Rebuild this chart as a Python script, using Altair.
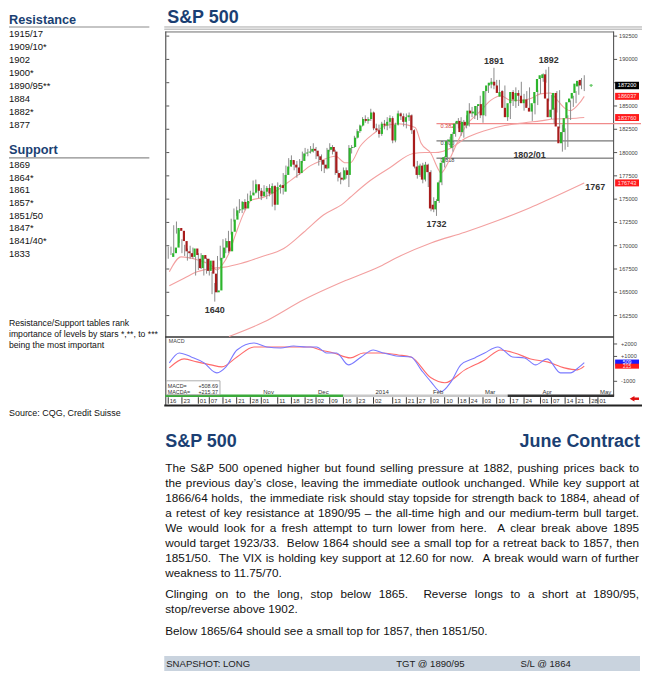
import altair as alt
import pandas as pd

# ------------------------------------------------------------------ data
holidays = ["2013-11-28", "2013-12-25", "2014-01-01", "2014-01-20",
            "2014-02-17", "2014-04-18"]

candle_open = [1688, 1692, 1698, 1719, 1716, 1705, 1694, 1692, 1688, 1697,
               1686, 1676, 1690, 1686, 1673, 1684, 1670, 1650, 1652, 1687,
               1698, 1705, 1694, 1715, 1728, 1738, 1739, 1747, 1740, 1748,
               1754, 1757, 1766, 1759, 1753, 1758, 1762, 1756, 1764, 1744,
               1763, 1765, 1758, 1776, 1785, 1792, 1787, 1784, 1778, 1791,
               1799, 1800, 1801, 1804, 1802, 1796, 1792, 1787, 1783, 1803,
               1806, 1801, 1778, 1773, 1771, 1781, 1776, 1805, 1806, 1816,
               1823, 1829, 1836, 1834, 1836, 1843, 1826, 1824, 1820, 1831,
               1829, 1833, 1837, 1813, 1830, 1842, 1839, 1833, 1838, 1840,
               1824, 1785, 1776, 1786, 1771, 1787, 1779, 1744, 1739, 1748,
               1768, 1789, 1795, 1812, 1805, 1820, 1831, 1834, 1822, 1833,
               1829, 1845, 1842, 1840, 1850, 1852, 1840, 1866, 1872, 1873,
               1876, 1872, 1860, 1866, 1848, 1838, 1853, 1865, 1855, 1864,
               1861, 1853, 1857, 1848, 1844, 1853, 1865, 1879, 1880, 1884,
               1858, 1838, 1846, 1864, 1828, 1810, 1822, 1837, 1854, 1858,
               1864, 1871, 1878]
candle_high = [1699, 1699, 1722, 1726, 1717, 1707, 1701, 1697, 1700, 1698,
               1688, 1692, 1692, 1689, 1687, 1686, 1672, 1660, 1689, 1700,
               1707, 1708, 1716, 1729, 1740, 1742, 1750, 1748, 1750, 1756,
               1759, 1770, 1771, 1763, 1762, 1765, 1764, 1766, 1767, 1765,
               1768, 1766, 1778, 1786, 1794, 1797, 1791, 1791, 1793, 1801,
               1805, 1804, 1807, 1810, 1806, 1798, 1798, 1792, 1805, 1810,
               1808, 1803, 1781, 1779, 1784, 1784, 1808, 1808, 1818, 1825,
               1830, 1838, 1840, 1838, 1847, 1844, 1831, 1830, 1833, 1835,
               1838, 1840, 1839, 1832, 1845, 1843, 1842, 1842, 1843, 1841,
               1825, 1791, 1788, 1789, 1790, 1788, 1781, 1752, 1750, 1770,
               1791, 1796, 1814, 1817, 1822, 1833, 1837, 1838, 1835, 1840,
               1853, 1849, 1850, 1851, 1861, 1853, 1868, 1874, 1880, 1891,
               1878, 1878, 1867, 1872, 1850, 1855, 1867, 1870, 1867, 1876,
               1863, 1866, 1870, 1851, 1860, 1867, 1880, 1885, 1889, 1892,
               1862, 1848, 1866, 1867, 1830, 1826, 1840, 1856, 1861, 1866,
               1876, 1880, 1883]
candle_low = [1686, 1690, 1692, 1713, 1703, 1692, 1689, 1684, 1686, 1686,
              1668, 1674, 1675, 1668, 1670, 1668, 1648, 1640, 1650, 1684,
              1686, 1692, 1692, 1712, 1726, 1732, 1735, 1735, 1738, 1745,
              1750, 1755, 1756, 1751, 1749, 1755, 1750, 1753, 1742, 1738,
              1760, 1756, 1755, 1773, 1783, 1785, 1781, 1773, 1776, 1789,
              1796, 1796, 1799, 1800, 1793, 1786, 1780, 1778, 1782, 1801,
              1798, 1776, 1769, 1766, 1770, 1772, 1763, 1799, 1805, 1815,
              1821, 1828, 1832, 1831, 1834, 1824, 1822, 1816, 1818, 1825,
              1824, 1826, 1810, 1811, 1829, 1835, 1828, 1826, 1834, 1820,
              1783, 1772, 1774, 1767, 1769, 1763, 1737, 1736, 1732, 1746,
              1765, 1784, 1792, 1806, 1801, 1817, 1826, 1818, 1816, 1826,
              1828, 1838, 1836, 1835, 1837, 1832, 1839, 1864, 1869, 1868,
              1866, 1862, 1853, 1845, 1834, 1836, 1850, 1848, 1850, 1858,
              1845, 1850, 1846, 1834, 1841, 1851, 1863, 1876, 1875, 1855,
              1836, 1831, 1843, 1826, 1801, 1803, 1806, 1835, 1849, 1853,
              1862, 1868, 1866]
candle_close = [1692, 1698, 1719, 1716, 1705, 1694, 1692, 1688, 1697, 1690,
                1676, 1690, 1686, 1673, 1684, 1670, 1650, 1652, 1687, 1698,
                1705, 1694, 1715, 1728, 1738, 1739, 1747, 1740, 1748, 1754,
                1757, 1766, 1759, 1753, 1758, 1762, 1756, 1764, 1744, 1763,
                1765, 1762, 1776, 1785, 1792, 1787, 1784, 1778, 1791, 1799,
                1800, 1801, 1804, 1802, 1796, 1792, 1787, 1783, 1803, 1806,
                1801, 1778, 1773, 1771, 1781, 1776, 1805, 1806, 1816, 1823,
                1829, 1836, 1834, 1836, 1843, 1826, 1824, 1820, 1831, 1829,
                1833, 1837, 1813, 1830, 1842, 1839, 1833, 1838, 1840, 1824,
                1785, 1776, 1786, 1771, 1787, 1779, 1740, 1739, 1748, 1768,
                1789, 1795, 1812, 1814, 1820, 1831, 1834, 1822, 1833, 1829,
                1845, 1842, 1844, 1850, 1852, 1840, 1866, 1872, 1875, 1876,
                1872, 1864, 1865, 1848, 1838, 1853, 1865, 1857, 1864, 1861,
                1853, 1857, 1848, 1844, 1853, 1865, 1879, 1883, 1884, 1858,
                1838, 1846, 1864, 1828, 1810, 1822, 1837, 1854, 1858, 1864,
                1874, 1877, 1872]

# moving averages, sampled along the trading-day axis
fast_ma_day = [0.4, 4.7, 10.5, 15.6, 17.8, 19.6, 22.2, 24.7, 27.6, 30.5,
               34.9, 39.6, 43.3, 48.4, 52, 55.6, 61.1, 64.7, 66.5, 70.2,
               74.9, 79.6, 84, 90.2, 92.4, 96, 98.5, 99.6, 102.2, 104.7,
               108.4, 114.2, 117.8, 121.5, 125.1, 128.7, 132.4, 136, 139.6, 142.2,
               144.7, 146.9, 150.2, 152]
fast_ma_val = [1672, 1688, 1685, 1679, 1674, 1679, 1692, 1713, 1735, 1749,
               1752, 1759, 1767, 1778, 1786, 1791, 1796, 1789, 1789, 1807,
               1820, 1829, 1831, 1827, 1810, 1799, 1783, 1778, 1789, 1805,
               1827, 1845, 1856, 1861, 1856, 1856, 1858, 1863, 1864, 1856,
               1848, 1845, 1853, 1860.37]
slow_ma_day = [0.4, 5.8, 10.5, 16.7, 20.4, 26.5, 33.8, 42.2, 49.5, 56.7,
               64, 66.5, 73.8, 81.1, 89.5, 93.8, 97.5, 103.3, 108.4, 115.6,
               122.9, 130.2, 136, 141.1, 146.9, 152]
slow_ma_val = [1657, 1665, 1672, 1676, 1677, 1681, 1688, 1697, 1714.5, 1733,
               1745.5, 1752, 1770, 1784, 1799, 1800, 1800, 1805, 1815, 1823.5,
               1829, 1832, 1834, 1836, 1836.5, 1837.6]
long_ma_day = [22.2, 34.9, 49.5, 65.1, 77.5, 84, 96, 108.4, 120.4, 132.4, 138.5, 152]
long_ma_val = [1602.5, 1618, 1642, 1663, 1678, 1688, 1703, 1714.5, 1727, 1741, 1749, 1767.43]

macd_day = [0.4, 4, 8.4, 13.1, 16.7, 17.8, 21.1, 25.1, 31.3, 36,
            41.1, 45.8, 50.5, 54.2, 57.8, 61.5, 65.8, 70.5, 74.9, 78.5,
            83.3, 88.7, 92.4, 96, 99.6, 103.3, 106.9, 112, 115.6, 120.4,
            125.8, 130.2, 134.2, 138.5, 143.3, 146.9, 150.2, 152]
macd_val = [480, 1280, 960, 480, -240, -320, 160, 1520, 2080, 1760,
            1680, 1840, 1760, 1760, 1280, 1280, 320, 960, 1520, 1280,
            1040, 960, -80, -1040, -1840, -1040, 320, 880, 1280, 1760,
            960, 880, 320, 800, -320, -320, 160, 508.69]
signal_day = [0.4, 5.8, 10.5, 15.6, 19.6, 25.1, 31.3, 37.5, 44.7, 52,
              55.6, 60.4, 66.5, 71.3, 77.5, 84, 88.7, 96, 101.1, 108.4,
              115.6, 121.5, 126.5, 132.4, 138.5, 144.7, 149.5, 152]
signal_val = [80, 800, 560, 320, 160, 960, 1760, 1760, 1760, 1760,
              1520, 1280, 880, 1280, 1280, 1120, 960, -720, -1120, -80,
              720, 1520, 1280, 800, 560, 80, -80, 215.37]

fib_ratio = ["0.382", "0.500", "0.618"]
fib_level = [1831, 1812.5, 1794]
fib_start = "2014-02-05"

peak_text = ["1891", "1892"]
peak_date = ["2014-03-07", "2014-04-04"]
peak_value = [1891, 1892]
trough_text = ["1732", "1640"]
trough_date = ["2014-02-05", "2013-10-09"]
trough_value = [1732, 1640]
level_text = ["1802/01", "1767"]
level_date = ["2014-03-26", "2014-04-30"]
level_value = [1802, 1767]

price_ticks = [1925, 1900, 1875, 1850, 1825, 1800, 1775, 1750, 1725, 1700, 1675, 1650, 1625]
# the 187500 label is hidden behind the last-price box in the reference
label_ticks = [1925, 1900, 1850, 1825, 1800, 1775, 1750, 1725, 1700, 1675, 1650, 1625]
label_texts = ["192500", "190000", "185000", "182500", "180000", "177500",
               "175000", "172500", "170000", "167500", "165000", "162500"]
last_price = [1872.00]
last_price_label = ["187200"]
ma_levels = [1860.37, 1837.60, 1767.43]
ma_level_labels = ["186037", "183760", "176743"]

macd_ticks = [2000, 1000, -1000]
macd_tick_labels = ["+2000", "+1000", "-1000"]

date_ticks = ["2013-09-16", "2013-09-23", "2013-10-01", "2013-10-07", "2013-10-14", "2013-10-21",
              "2013-10-28", "2013-11-01", "2013-11-11", "2013-11-18", "2013-11-25", "2013-12-02",
              "2013-12-09", "2013-12-16", "2013-12-23", "2014-01-02", "2014-01-13", "2014-01-21",
              "2014-01-27", "2014-02-03", "2014-02-10", "2014-02-18", "2014-02-24", "2014-03-03",
              "2014-03-10", "2014-03-17", "2014-03-24", "2014-04-01", "2014-04-07", "2014-04-14",
              "2014-04-21", "2014-04-28", "2014-05-01"]
month_dates = ["2013-11-01", "2013-12-02", "2014-01-02", "2014-02-03", "2014-03-03", "2014-04-01", "2014-05-01"]
month_labels = ["Nov", "Dec", "2014", "Feb", "Mar", "Apr", "May"]

resistance_levels = ["1915/17", "1909/10*", "1902", "1900*", "1890/95**", "1884", "1882*", "1877"]
support_levels = ["1869", "1864*", "1861", "1857*", "1851/50", "1847*", "1841/40*", "1833"]

paragraph1 = [
    "The S&P 500 opened higher but found selling pressure at 1882, pushing prices back to",
    "the previous day\u2019s close, leaving the immediate outlook unchanged. While key support at",
    "1866/64 holds,  the immediate risk should stay topside for strength back to 1884, ahead of",
    "a retest of key resistance at 1890/95 \u2013 the all-time high and our medium-term bull target.",
    "We would look for a fresh attempt to turn lower from here.  A clear break above 1895",
    "would target 1923/33.  Below 1864 should see a small top for a retreat back to 1857, then",
    "1851/50.  The VIX is holding key support at 12.60 for now.  A break would warn of further",
    "weakness to 11.75/70.",
]
paragraph2 = [
    "Clinging on to the long, stop below 1865.  Reverse longs to a short at 1890/95,",
    "stop/reverse above 1902.",
]
paragraph3 = ["Below 1865/64 should see a small top for 1857, then 1851/50."]

# ------------------------------------------------------------------ helpers
SANS = "Liberation Sans, Arial, Helvetica, sans-serif"
NARROW = "Liberation Sans Narrow, Arial Narrow, Liberation Sans, Arial, sans-serif"
BLUE = "#1B3F73"
GREEN = "#2DB52D"
RED = "#A81C1C"
PINK = "#F3A0A0"

calendar = [d.strftime("%Y-%m-%d") for d in pd.bdate_range("2013-09-16", "2014-05-02")
            if d.strftime("%Y-%m-%d") not in holidays]
day_of = {d: i for i, d in enumerate(calendar)}

XS = alt.Scale(domain=[0, 160], range=[161, 601], nice=False, zero=False)
PS = alt.Scale(domain=[1602, 1930], range=[329, 22], nice=False, zero=False)
MS = alt.Scale(domain=[-1920, 2560], range=[385, 329], nice=False, zero=False)


def DX(f="day"):
    return alt.X(f"{f}:Q", scale=XS, axis=None)


def PY(f):
    return alt.Y(f"{f}:Q", scale=PS, axis=None)


def MY(f):
    return alt.Y(f"{f}:Q", scale=MS, axis=None)


def sc(v):
    return v - 8  # screen pixel -> chart pixel


def texts(rows, size, color="#111111", weight="normal", align="left", font=SANS,
          baseline="alphabetic"):
    df = pd.DataFrame({"px": [sc(r[0]) for r in rows], "py": [sc(r[1]) for r in rows],
                       "t": [r[2] for r in rows]})
    return alt.Chart(df).mark_text(align=align, baseline=baseline, font=font, fontSize=size,
                                   fontWeight=weight, color=color).encode(
        x=alt.X("px:Q", scale=None), y=alt.Y("py:Q", scale=None), text="t:N")


def segs(rows, color, width):
    df = pd.DataFrame({"x1": [sc(r[0]) for r in rows], "y1": [sc(r[1]) for r in rows],
                       "x2": [sc(r[2]) for r in rows], "y2": [sc(r[3]) for r in rows]})
    return alt.Chart(df).mark_rule(color=color, strokeWidth=width, strokeCap="butt").encode(
        x=alt.X("x1:Q", scale=None), y=alt.Y("y1:Q", scale=None), x2="x2:Q", y2="y2:Q")


def rects(rows, fill, stroke="#000000", width=0):
    df = pd.DataFrame({"x1": [sc(r[0]) for r in rows], "y1": [sc(r[1]) for r in rows],
                       "x2": [sc(r[2]) for r in rows], "y2": [sc(r[3]) for r in rows]})
    return alt.Chart(df).mark_rect(fill=fill, stroke=stroke, strokeWidth=width).encode(
        x=alt.X("x1:Q", scale=None), y=alt.Y("y1:Q", scale=None), x2="x2:Q", y2="y2:Q")


ARIAL = {' ': 278, '&': 667, '\u2019': 222, '\u2013': 556, ',': 278, '.': 278, '/': 278,
         '-': 333, ':': 278, '*': 389, '+': 584, '@': 1015,
         'A': 667, 'B': 667, 'C': 722, 'D': 722, 'E': 667, 'F': 611, 'G': 778, 'H': 722,
         'I': 278, 'J': 500, 'K': 667, 'L': 556, 'M': 833, 'N': 722, 'O': 778, 'P': 667,
         'Q': 778, 'R': 722, 'S': 667, 'T': 611, 'U': 722, 'V': 667, 'W': 944, 'X': 667,
         'Y': 667, 'Z': 611, 'a': 556, 'b': 556, 'c': 500, 'd': 556, 'e': 556, 'f': 278,
         'g': 556, 'h': 556, 'i': 222, 'j': 222, 'k': 500, 'l': 222, 'm': 833, 'n': 556,
         'o': 556, 'p': 556, 'q': 556, 'r': 333, 's': 500, 't': 278, 'u': 556, 'v': 500,
         'w': 722, 'x': 500, 'y': 500, 'z': 500}


def tw(s, size):
    return sum(ARIAL.get(ch, 556) for ch in s) * size / 1000.0


def justify(lines, x0, x1, y0, step, size):
    rows = []
    for k, line in enumerate(lines):
        y = y0 + k * step
        words = line.split(" ")
        if k == len(lines) - 1 or len(words) < 2:
            rows.append((x0, y, line))
            continue
        total = sum(tw(w, size) for w in words)
        gap = (x1 - x0 - total) / (len(words) - 1)
        x = x0
        for w in words:
            if w:
                rows.append((x, y, w))
            x += tw(w, size) + gap
    return rows


layers = []
LX = 9  # left column text start (screen px)

# ------------------------------------------------------------------ left column
layers.append(texts([(LX, 22.5, "Resistance"), (LX, 153, "Support")], 12.8, BLUE, "bold"))
layers.append(segs([(LX, 25.5, 150, 25.5), (LX, 157, 150, 157)], "#8C8C8C", 1.2))
layers.append(texts([(LX, 35.2 + k * 13.1, s) for k, s in enumerate(resistance_levels)], 9.5,
                    font=NARROW))
layers.append(texts([(LX, 167.2 + k * 12.75, s) for k, s in enumerate(support_levels)], 9.5,
                    font=NARROW))
layers.append(texts([(LX, 326, "Resistance/Support tables rank"),
                     (LX, 337.2, "importance of levels by stars *,**, to ***"),
                     (LX, 348.4, "being the most important")], 8.7, font=NARROW))
layers.append(texts([(LX, 416.5, "Source: CQG, Credit Suisse")], 9, font=NARROW))

# ------------------------------------------------------------------ chart frame
layers.append(texts([(168, 21.5, "S&P 500")], 18, BLUE, "bold"))
layers.append(segs([(165, 25.5, 645, 25.5)], "#A6A6A6", 1))
layers.append(segs([(165, 27.8, 645, 27.8)], "#C4C4C4", 1.4))
layers.append(segs([(166, 30.5, 616.5, 30.5)], "#6E6E6E", 1))
layers.append(segs([(166.5, 30, 166.5, 406)], "#555555", 1.2))
layers.append(segs([(616.5, 30, 616.5, 396)], "#444444", 1))
layers.append(segs([(166, 337, 616.5, 337)], "#333333", 1.5))
layers.append(segs([(166, 396, 345, 396)], "#3BAA3B", 2.5))
layers.append(segs([(345, 396, 510, 396)], "#C8C8C8", 2.5))
layers.append(segs([(510, 396, 617, 396)], "#333333", 2.5))
layers.append(segs([(165, 405.8, 645, 405.8)], "#222222", 2))

# ------------------------------------------------------------------ price panel
n = len(candle_open)
candles = pd.DataFrame({"day": list(range(n)), "date": calendar[:n], "o": candle_open,
                        "h": candle_high, "l": candle_low, "c": candle_close})

ptick = pd.DataFrame({"v": price_ticks})
plab = pd.DataFrame({"v": label_ticks, "t": label_texts})
layers.append(alt.Chart(ptick).mark_rule(color="#555555").encode(
    x=alt.value(sc(616.5)), x2=alt.value(sc(620)), y=PY("v")))
layers.append(alt.Chart(ptick).mark_rule(color="#555555").encode(
    x=alt.value(sc(167)), x2=alt.value(sc(170)), y=PY("v")))
layers.append(alt.Chart(plab).mark_text(align="left", baseline="middle", font=SANS,
                                        fontSize=5.6, color="#444444").encode(
    x=alt.value(sc(622)), y=PY("v"), text="t:N"))

fib = pd.DataFrame({"day": [day_of[fib_start]] * 3, "v": fib_level, "t": fib_ratio})
layers.append(alt.Chart(fib.iloc[:1]).mark_rule(color="#F08A8A", strokeWidth=1.2).encode(
    x=DX(), x2=alt.value(sc(644)), y=PY("v")))
layers.append(alt.Chart(fib.iloc[1:]).mark_rule(color="#555555", strokeWidth=1).encode(
    x=DX(), x2=alt.value(sc(616.5)), y=PY("v")))
layers.append(alt.Chart(fib.iloc[:1]).mark_text(align="left", baseline="middle", dx=4, dy=2,
                                                fontSize=5.6, font=SANS, color="#D04040").encode(
    x=DX(), y=PY("v"), text="t:N"))
layers.append(alt.Chart(fib.iloc[1:]).mark_text(align="left", baseline="middle", dx=4, dy=2,
                                                fontSize=5.6, font=SANS, color="#444444").encode(
    x=DX(), y=PY("v"), text="t:N"))

for dvals, vals in [(long_ma_day, long_ma_val), (slow_ma_day, slow_ma_val), (fast_ma_day, fast_ma_val)]:
    df = pd.DataFrame({"day": dvals, "v": vals})
    layers.append(alt.Chart(df).mark_line(color=PINK, strokeWidth=1.1, interpolate="monotone").encode(
        x=DX(), y=PY("v")))

layers.append(alt.Chart(candles).mark_rule(color="#8A8A8A", strokeWidth=1).encode(
    x=DX(), y=PY("l"), y2="h:Q"))
layers.append(alt.Chart(candles).mark_bar(size=2.2).encode(
    x=DX(), y=PY("o"), y2="c:Q",
    color=alt.condition("datum.c >= datum.o", alt.value(GREEN), alt.value(RED))))

for tx, dts, vals, dy in [(peak_text, peak_date, peak_value, -7),
                          (trough_text, trough_date, trough_value, 8),
                          (level_text, level_date, level_value, 4)]:
    df = pd.DataFrame({"day": [day_of[d] for d in dts], "v": vals, "t": tx})
    layers.append(alt.Chart(df).mark_text(align="center", baseline="middle", dy=dy, font=SANS,
                                          fontSize=9, fontWeight="bold", color="#333333").encode(
        x=DX(), y=PY("v"), text="t:N"))

lp = pd.DataFrame({"v": last_price, "t": last_price_label, "day": [n + 1.5]})
layers.append(alt.Chart(lp).mark_point(shape="cross", filled=True, size=10, color=GREEN).encode(
    x=DX(), y=PY("v")))
layers.append(alt.Chart(lp).mark_rule(color="#000000", strokeWidth=7.5, strokeCap="butt").encode(
    x=alt.value(sc(618)), x2=alt.value(sc(642)), y=PY("v")))
layers.append(alt.Chart(lp).mark_text(align="center", baseline="middle", font=SANS, fontSize=5.6,
                                      color="#FFFFFF").encode(
    x=alt.value(sc(630)), y=PY("v"), text="t:N"))
mal = pd.DataFrame({"v": ma_levels, "t": ma_level_labels})
layers.append(alt.Chart(mal).mark_rule(color="#FF1A1A", strokeWidth=7, strokeCap="butt").encode(
    x=alt.value(sc(618)), x2=alt.value(sc(642)), y=PY("v")))
layers.append(alt.Chart(mal).mark_text(align="center", baseline="middle", font=SANS, fontSize=5.6,
                                       color="#FFE0E0").encode(
    x=alt.value(sc(630)), y=PY("v"), text="t:N"))

# ------------------------------------------------------------------ MACD panel
mt = pd.DataFrame({"v": macd_ticks, "t": macd_tick_labels})
layers.append(alt.Chart(mt).mark_rule(color="#555555").encode(
    x=alt.value(sc(616.5)), x2=alt.value(sc(620)), y=MY("v")))
layers.append(alt.Chart(mt).mark_text(align="left", baseline="middle", font=SANS, fontSize=5.6,
                                      color="#444444").encode(
    x=alt.value(sc(624)), y=MY("v"), text="t:N"))
layers.append(texts([(169.5, 343, "MACD")], 5.4, "#444444"))

for dvals, vals, col in [(signal_day, signal_val, "#FF6A6A"), (macd_day, macd_val, "#7A7AFF")]:
    df = pd.DataFrame({"day": dvals, "v": vals})
    layers.append(alt.Chart(df).mark_line(color=col, strokeWidth=1.1, interpolate="monotone").encode(
        x=DX(), y=MY("v")))

last_macd = pd.DataFrame({"v": [macd_val[-1]], "t": [f"{macd_val[-1]:.0f}"]})
last_sig = pd.DataFrame({"v": [signal_val[-1]], "t": [f"{signal_val[-1]:.0f}"]})
layers.append(alt.Chart(last_macd).mark_rule(color="#1A1AFF", strokeWidth=6, strokeCap="butt").encode(
    x=alt.value(sc(618)), x2=alt.value(sc(642)), y=MY("v")))
layers.append(alt.Chart(last_sig).mark_rule(color="#FF1A1A", strokeWidth=5, strokeCap="butt").encode(
    x=alt.value(sc(618)), x2=alt.value(sc(642)), y=MY("v")))
layers.append(alt.Chart(last_macd).mark_text(align="center", baseline="middle", dy=-0.5, font=SANS,
                                             fontSize=5.2, color="#FFFFFF").encode(
    x=alt.value(sc(630)), y=MY("v"), text="t:N"))
layers.append(alt.Chart(last_sig).mark_text(align="center", baseline="middle", dy=0.5, font=SANS,
                                            fontSize=4.8, color="#FFE0E0").encode(
    x=alt.value(sc(630)), y=MY("v"), text="t:N"))

# legend box
layers.append(rects([(167, 381, 221, 395)], "#FFFFFF", "#9A9A9A", 0.8))
layers.append(texts([(168.5, 388, "MACD="), (168.5, 394, "MACDA=")], 5.4, "#333333"))
layers.append(texts([(219, 388, f"{macd_val[-1]:+.2f}"), (219, 394, f"{signal_val[-1]:+.2f}")],
                    5.4, "#333333", align="right"))

# ------------------------------------------------------------------ date axis
dt = pd.DataFrame({"day": [day_of[d] for d in date_ticks], "t": [d[8:10] for d in date_ticks]})
layers.append(alt.Chart(dt).mark_rule(color="#333333").encode(
    x=DX(), y=alt.value(sc(397.5)), y2=alt.value(sc(404))))
layers.append(alt.Chart(dt).mark_text(align="left", baseline="alphabetic", dx=1.5, font=SANS,
                                      fontSize=6, color="#333333").encode(
    x=DX(), y=alt.value(sc(403)), text="t:N"))
mo = pd.DataFrame({"day": [day_of[d] for d in month_dates], "t": month_labels})
layers.append(alt.Chart(mo).mark_text(align="left", baseline="alphabetic", dx=2, font=SANS,
                                      fontSize=6, color="#333333").encode(
    x=DX(), y=alt.value(sc(394.5)), text="t:N"))

arrow = pd.DataFrame({"px": [sc(635)], "py": [sc(399)]})
layers.append(alt.Chart(arrow).mark_point(shape="triangle-left", filled=True, size=30,
                                          color="#E01010", opacity=1).encode(
    x=alt.X("px:Q", scale=None), y=alt.Y("py:Q", scale=None)))
layers.append(segs([(636, 399, 642, 399)], "#E01010", 2.5))

# ------------------------------------------------------------------ commentary
layers.append(texts([(166, 447.5, "S&P 500")], 18, BLUE, "bold"))
layers.append(texts([(643, 447.5, "June Contract")], 18, BLUE, "bold", align="right"))
layers.append(texts(justify(paragraph1, 166, 642, 472.7, 15, 11.8), 11.8))
layers.append(texts(justify(paragraph2, 166, 642, 599.3, 15, 11.8), 11.8))
layers.append(texts(justify(paragraph3, 166, 642, 636.7, 15, 11.8), 11.8))
layers.append(rects([(165, 657.5, 643, 672.5)], "#C9D3DE", "#C9D3DE", 0))
layers.append(texts([(167, 668.8, "SNAPSHOT: LONG"), (398, 668.8, "TGT @ 1890/95"),
                     (523, 668.8, "S/L @ 1864")], 9.6, "#222222", font=NARROW))

chart = alt.layer(*layers).properties(
    width=637, height=665, padding=0,
    autosize=alt.AutoSizeParams(type="none"), background="#FFFFFF"
).resolve_scale(x="independent", y="independent").configure_view(strokeWidth=0)

chart.save("out.html", embed_options={"renderer": "svg", "actions": False})
